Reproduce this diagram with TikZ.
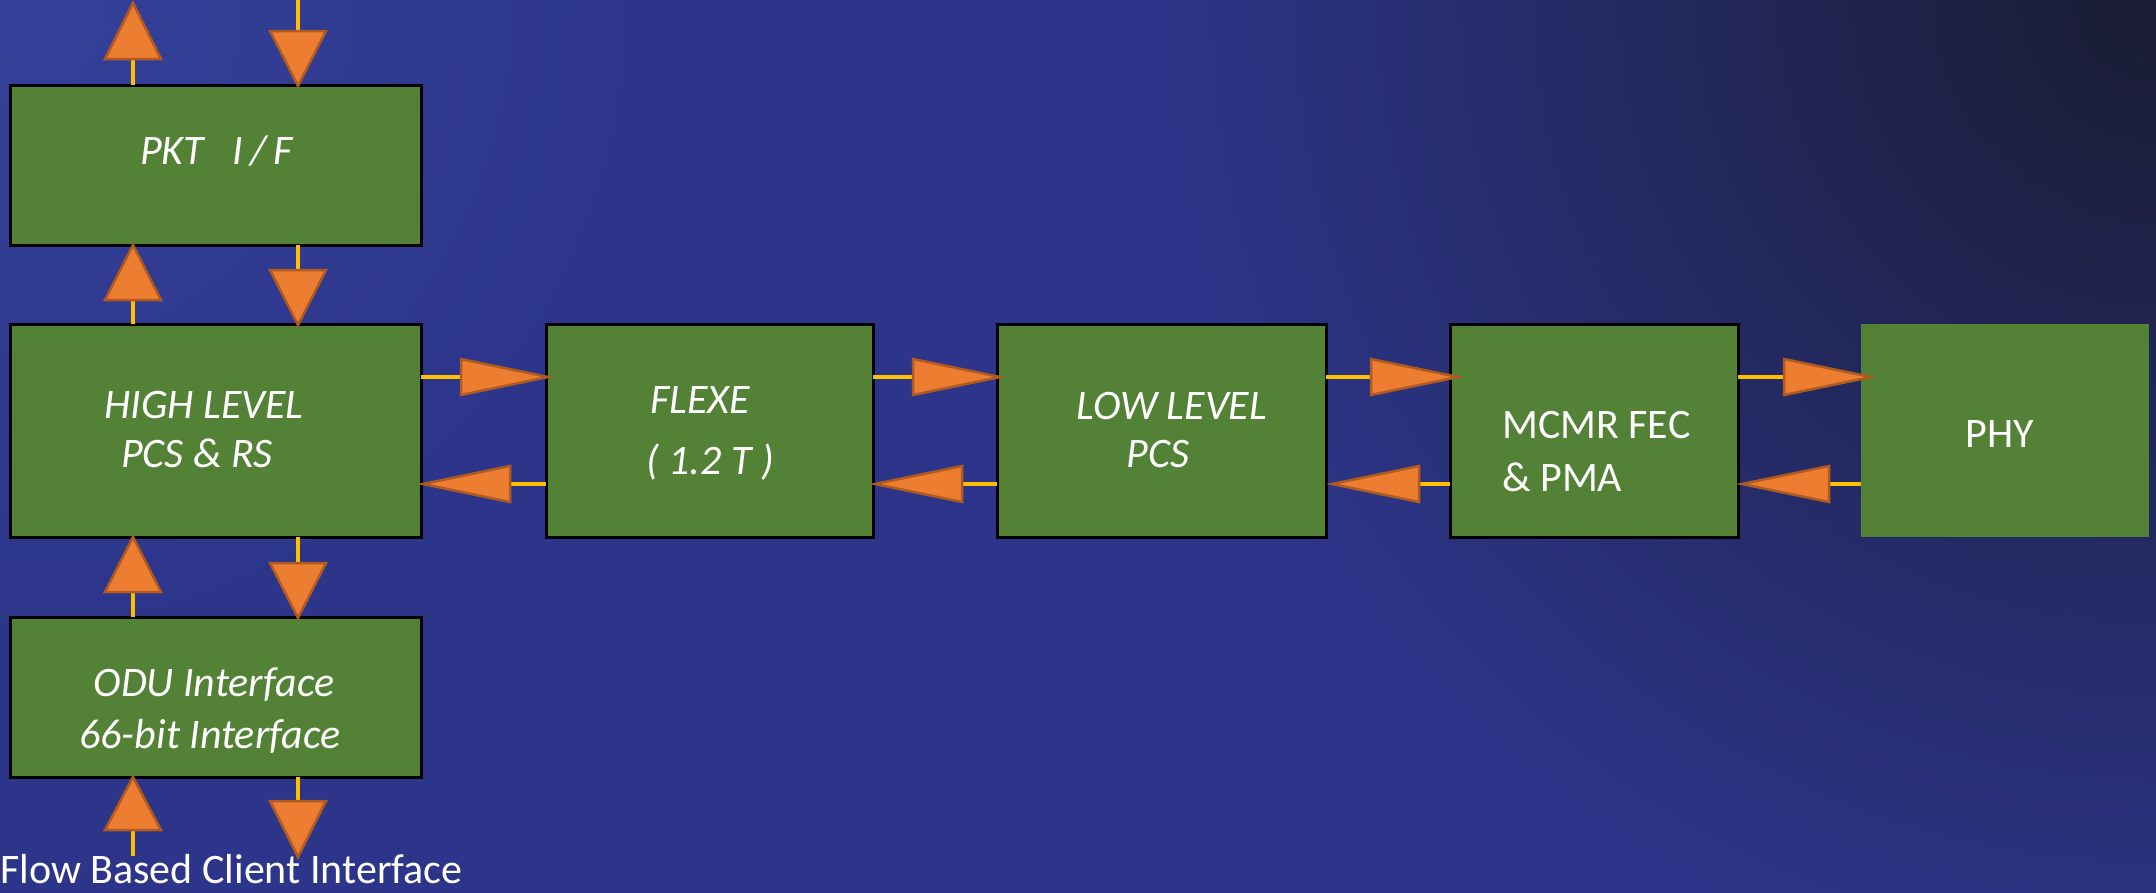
\documentclass[tikz,border=0pt]{standalone}
\usepackage{fontspec}
\setmainfont{Carlito}
\definecolor{bgblue}{HTML}{2C3589}
\definecolor{bgdark}{HTML}{1A1C33}
\definecolor{bglight}{HTML}{35419A}
\definecolor{boxgreen}{HTML}{538135}
\definecolor{arrorange}{HTML}{ED7D31}
\definecolor{arredge}{HTML}{AE5A21}
\definecolor{stemyellow}{HTML}{FFC000}
\tikzset{
  box/.style={fill=boxgreen, draw=black, line width=3pt, outer sep=0pt, inner sep=0pt},
  plainbox/.style={fill=boxgreen, draw=none, outer sep=0pt, inner sep=0pt},
  stem/.style={draw=stemyellow, line width=4.5pt},
  tri/.style={fill=arrorange, draw=arredge, line width=2.5pt, line join=miter},
  txt/.style={text=white, font=\fontsize{42}{50}\selectfont\itshape, inner sep=0pt, anchor=base},
  uptxt/.style={text=white, font=\fontsize{42}{50}\selectfont, inner sep=0pt, anchor=base west},
}
% right-pointing arrow: #1 source box, #2 target box, #3 row, #4 tip overshoot
\newcommand\myArrowRight[4]{%
  \draw[stem] (#1.east |- #3) -- ([shift={(-85+#4,0)}]#2.west |- #3);
  \path[tri] ([shift={(#4,0)}]#2.west |- #3) -- ++(-87,-18) -- ++(0,36) -- cycle;}
% left-pointing arrow: #1 target box (left), #2 source box (right), #3 row, #4 tip offset
\newcommand\myArrowLeft[4]{%
  \draw[stem] (#2.west |- #3) -- ([shift={(86+#4,0)}]#1.east |- #3);
  \path[tri] ([shift={(#4,0)}]#1.east |- #3) -- ++(87,-18) -- ++(0,36) -- cycle;}
% up arrow from lower box #1 to upper box #2 in column cA
\newcommand\myArrowUp[2]{%
  \draw[stem] (#1.north -| cA) -- ([shift={(0,54)}]#2.south -| cA);
  \path[tri] (#2.south -| cA) -- ++(-28,55) -- ++(56,0) -- cycle;}
% down arrow from upper box #1 to lower box #2 in column cB
\newcommand\myArrowDown[2]{%
  \draw[stem] (#1.south -| cB) -- ([shift={(0,-54)}]#2.north -| cB);
  \path[tri] ([shift={(0,1)}]#2.north -| cB) -- ++(-28,-55) -- ++(56,0) -- cycle;}
\begin{document}
\begin{tikzpicture}[x=1pt, y=-1pt]
\useasboundingbox (0,0) rectangle (2156,892);
% background (slightly oversized so no page edge shows)
\fill[bgblue] (-6,-6) rectangle (2162,898);
\begin{scope}
  \clip (-6,-6) rectangle (2162,898);
  \shade[inner color=bglight, outer color=bgblue] (0,0) circle (650);
  \shade[inner color=bgdark, outer color=bgblue] (2156,0) circle (1000);
\end{scope}
% row / column helpers
\coordinate (r1) at (0,377);
\coordinate (r2) at (0,484);
\coordinate (cA) at (133,0);
\coordinate (cB) at (298,0);
\coordinate (topA) at (133,3);
\coordinate (topB) at (298,0);
\coordinate (botA) at (133,856);
\coordinate (botB) at (298,857);
% boxes
\node[box, minimum width=411pt, minimum height=160pt] (pkt) at (215.5,165) {};
\node[box, minimum width=411pt, minimum height=213pt] (hl) at (215.5,430.5) {};
\node[box, minimum width=411pt, minimum height=160pt] (odu) at (215.5,697) {};
\node[box, minimum width=327pt, minimum height=213pt] (flexe) at (709.5,430.5) {};
\node[box, minimum width=329pt, minimum height=213pt] (low) at (1161.5,430.5) {};
\node[box, minimum width=288pt, minimum height=213pt] (mcmr) at (1594,430.5) {};
\node[plainbox, minimum width=288pt, minimum height=213pt] (phy) at (2005,430.5) {};
% texts
\node[txt] (tpkt) at (216.5,164) {PKT\ \ \ I\,/\,F};
\node[txt] (thl1) at (204,418) {HIGH LEVEL};
\node[txt] (thl2) at (197,467) {PCS \& RS};
\node[txt] (todu1) at (214,696) {ODU Interface};
\node[txt] (todu2) at (210,748) {66-bit Interface};
\node[txt] (tfl1) at (700,413) {FLEXE};
\node[txt] (tfl2) at (710,474) {( 1.2 T )};
\node[txt] (tlow1) at (1172,419) {LOW LEVEL};
\node[txt] (tlow2) at (1158,467) {PCS};
\node[uptxt] (tmc1) at (1502,438) {MCMR FEC};
\node[uptxt] (tmc2) at (1502,491) {\& PMA};
\node[txt, font=\fontsize{42}{50}\selectfont] (tphy) at (2000,447) {PHY};
\node[uptxt] (tflow) at (0,883) {Flow Based Client Interface};
% horizontal arrows
\myArrowRight{hl}{flexe}{r1}{2}
\myArrowRight{flexe}{low}{r1}{3}
\myArrowRight{low}{mcmr}{r1}{8}
\myArrowRight{mcmr}{phy}{r1}{10}
\myArrowLeft{hl}{flexe}{r2}{2}
\myArrowLeft{flexe}{low}{r2}{2}
\myArrowLeft{low}{mcmr}{r2}{6}
\myArrowLeft{mcmr}{phy}{r2}{4}
% vertical arrows
\myArrowUp{hl}{pkt}
\myArrowDown{pkt}{hl}
\myArrowUp{odu}{hl}
\myArrowDown{hl}{odu}
% top free ends
\draw[stem] (pkt.north -| cA) -- ([shift={(0,-25)}]pkt.north -| cA);
\path[tri] (topA) -- ++(-28,56) -- ++(56,0) -- cycle;
\draw[stem] (topB) -- ([shift={(0,-53)}]pkt.north -| cB);
\path[tri] ([shift={(0,1)}]pkt.north -| cB) -- ++(-28,-55) -- ++(56,0) -- cycle;
% bottom free ends
\draw[stem] (botA) -- ([shift={(0,54)}]odu.south -| cA);
\path[tri] (odu.south -| cA) -- ++(-28,53) -- ++(56,0) -- cycle;
\draw[stem] (odu.south -| cB) -- ([shift={(0,-55)}]botB);
\path[tri] (botB) -- ++(-28,-56) -- ++(56,0) -- cycle;
\end{tikzpicture}
\end{document}
